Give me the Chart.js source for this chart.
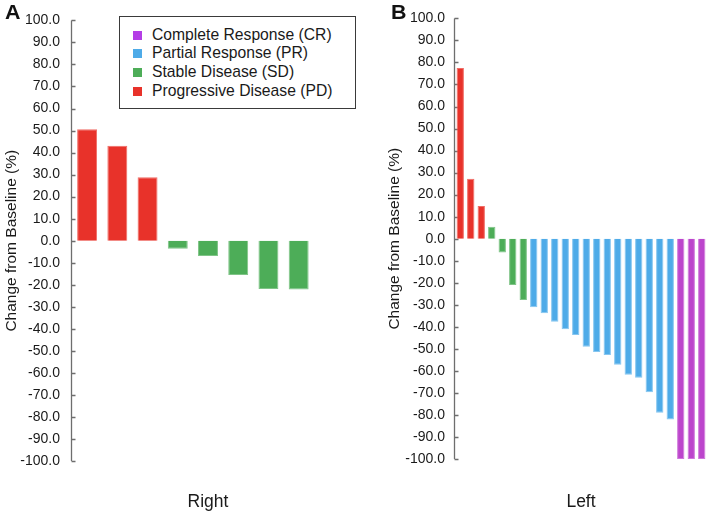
<!DOCTYPE html>
<html><head><meta charset="utf-8">
<script src="https://cdn.jsdelivr.net/npm/chart.js@4"></script>
<style>
body{margin:0;background:#fff;width:709px;height:514px;position:relative;overflow:hidden;font-family:"Liberation Sans",Arial,sans-serif;}
#ca{position:absolute;left:0;top:0;}
#cb{position:absolute;left:383px;top:0;}
.panel{position:absolute;font-weight:bold;font-size:19.5px;line-height:20px;color:#111;transform:scaleX(1.1);transform-origin:left top;}
#legend{position:absolute;left:119px;top:16px;width:235px;height:91px;border:1px solid #3a3a3a;background:#fff;}
.row{position:absolute;left:13px;height:18px;display:flex;align-items:center;font-size:15.7px;color:#1a1a1a;white-space:nowrap;}
.sw{width:9px;height:9px;margin-right:10px;flex:none;}
</style>
</head><body>
<canvas id="ca" width="344" height="514"></canvas>
<canvas id="cb" width="326" height="514"></canvas>
<div class="panel" style="left:5px;top:2px">A</div>
<div class="panel" style="left:391px;top:2px">B</div>
<div id="legend"></div>
<script>
// Panel A (Right)
const rightPatients = ['R1','R2','R3','R4','R5','R6','R7','R8',''];
const rightValues = [50.6, 43.1, 28.8, -3.7, -7.0, -15.6, -21.9, -22.2];
const rightResponse = ['PD','PD','PD','SD','SD','SD','SD','SD'];
// Panel B (Left)
const leftPatients = ['L1','L2','L3','L4','L5','L6','L7','L8','L9','L10','L11','L12','L13','L14','L15','L16','L17','L18','L19','L20','L21','L22','L23','L24'];
const leftValues = [77.5, 27.2, 14.9, 5.4, -6.3, -21.0, -27.8, -31.1, -33.8, -37.7, -41.1, -43.7, -49.1, -51.4, -52.8, -57.2, -61.7, -63.1, -69.7, -79.0, -82.1, -100, -100, -100];
const leftResponse = ['PD','PD','PD','SD','SD','SD','SD','PR','PR','PR','PR','PR','PR','PR','PR','PR','PR','PR','PR','PR','PR','CR','CR','CR'];
// Legend
const responseCodes = ['CR','PR','SD','PD'];
const responseNames = ['Complete Response (CR)','Partial Response (PR)','Stable Disease (SD)','Progressive Disease (PD)'];
// Axis
const yMin = -100, yMax = 100, yStep = 10;
const yTitle = 'Change from Baseline (%)';

const fillColors = {CR:'#bc45cc', PR:'#4eabe8', SD:'#4dad58', PD:'#e8322a'};
const edgeColors = {CR:'#cf78db', PR:'#86c6f0', SD:'#7fc487', PD:'#f06c65'};
const legendColors = {CR:'#b43ee6', PR:'#4eabe8', SD:'#4dad58', PD:'#e8322a'};
const FONT = '"Liberation Sans", Arial, sans-serif';

const lg = document.getElementById('legend');
const rowCenters = [18, 36, 55, 74];
responseCodes.forEach((c, i) => {
  const r = document.createElement('div');
  r.className = 'row';
  r.style.top = (rowCenters[i] - 9) + 'px';
  r.innerHTML = '<span class="sw" style="background:' + legendColors[c] + '"></span><span>' + responseNames[i] + '</span>';
  lg.appendChild(r);
});

const axisPlugin = {
  id: 'inwardAxis',
  beforeDatasetsDraw(chart) {
    const y = chart.scales.y, ctx = chart.ctx;
    const x = Math.round(chart.chartArea.left) - 0.5;
    ctx.save();
    ctx.strokeStyle = '#6e6e6e';
    ctx.lineWidth = 1.3;
    ctx.beginPath();
    ctx.moveTo(x, y.getPixelForValue(yMax));
    ctx.lineTo(x, y.getPixelForValue(yMin));
    y.ticks.forEach(t => {
      const py = Math.round(y.getPixelForValue(t.value)) + 0.5;
      ctx.moveTo(x, py);
      ctx.lineTo(x + 4, py);
    });
    ctx.stroke();
    ctx.restore();
  }
};

function makeChart(id, labels, values, responses, xTitle, cfg) {
  return new Chart(document.getElementById(id), {
    type: 'bar',
    data: {
      labels: labels,
      datasets: [{
        data: values,
        backgroundColor: responses.map(r => fillColors[r]),
        borderColor: responses.map(r => edgeColors[r]),
        borderWidth: 1,
        barPercentage: cfg.barPct,
        categoryPercentage: 1
      }]
    },
    options: {
      responsive: false,
      animation: false,
      layout: {padding: {top: cfg.top, right: cfg.right, bottom: 0, left: 0}},
      plugins: {legend: {display: false}, tooltip: {enabled: false}},
      scales: {
        x: {
          offset: true,
          grid: {display: false, drawTicks: false},
          border: {display: false},
          ticks: {display: false},
          title: {display: true, text: xTitle, color: '#1a1a1a', font: {family: FONT, size: 17.5}, padding: {top: 0, bottom: 1}},
          afterFit(s) { s.height = cfg.xh; }
        },
        y: {
          min: yMin, max: yMax,
          grid: {display: false, drawTicks: false},
          border: {display: false},
          ticks: {stepSize: yStep, autoSkip: false, padding: cfg.tickPad, color: '#1a1a1a', font: {family: FONT, size: 14}, callback: v => v.toFixed(1)},
          title: {display: true, text: yTitle, color: '#1a1a1a', font: {family: FONT, size: 15.5}, padding: {top: 2, bottom: 0}},
          afterFit(s) { s.width = 72; }
        }
      }
    },
    plugins: [axisPlugin]
  });
}

makeChart('ca', rightPatients, rightValues, rightResponse, 'Right', {barPct: 0.66, top: 17, right: 0, xh: 53, tickPad: 12});
makeChart('cb', leftPatients, leftValues, leftResponse, 'Left', {barPct: 0.7, top: 15, right: 2, xh: 55, tickPad: 10});
</script>
</body></html>
